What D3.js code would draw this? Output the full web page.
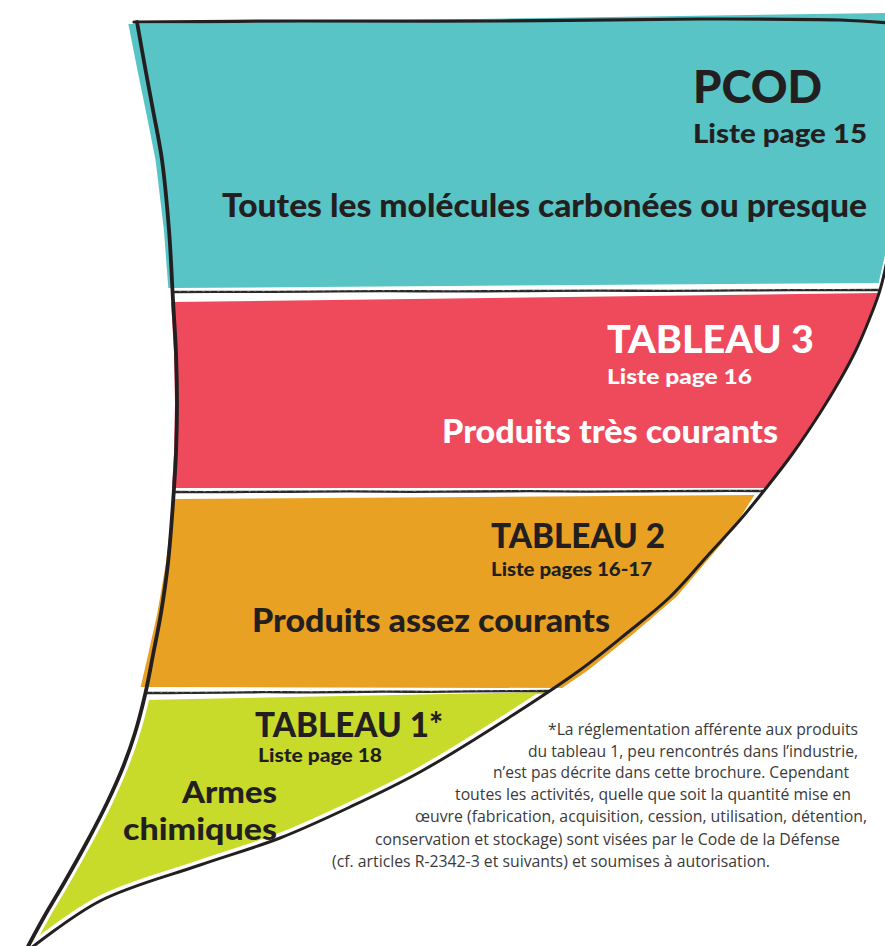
<!DOCTYPE html>
<html><head><meta charset="utf-8">
<script src="https://cdn.jsdelivr.net/npm/d3@7/dist/d3.min.js"></script>
<style>html,body{margin:0;padding:0;background:#fff;}svg{display:block;}</style>
</head><body>
<svg id="chart" width="885" height="946"></svg>
<script>
// ---------- data ----------
const tiers = ["PCOD", "TABLEAU 3", "TABLEAU 2", "TABLEAU 1*"];
const tierLists = ["Liste page 15", "Liste page 16", "Liste pages 16-17", "Liste page 18"];
const tierDescriptions = [
  ["Toutes les molécules carbonées ou presque"],
  ["Produits très courants"],
  ["Produits assez courants"],
  ["Armes", "chimiques"]
];
const tierColors = ["#58c4c5", "#ef4a5c", "#e8a122", "#c9db2a"];
const tierTextColors = ["#231f20", "#ffffff", "#231f20", "#231f20"];
const footnoteLines = [
  "*La réglementation afférente aux produits",
  "du tableau 1, peu rencontrés dans l’industrie,",
  "n’est pas décrite dans cette brochure. Cependant",
  "toutes les activités, quelle que soit la quantité mise en",
  "œuvre (fabrication, acquisition, cession, utilisation, détention,",
  "conservation et stockage) sont visées par le Code de la Défense",
  "(cf. articles R-2342-3 et suivants) et soumises à autorisation."
];

// ---------- layout (shape of the funnel) ----------
const W = 885, H = 946;
const leftEdge = [[137,22],[145,67],[153,110],[162,160],[169,230],[173,300],[176,353],[177,403],[176,453],[173,503],[168,563],[161,613],[153,655],[145,695],[135,733],[123,767],[107,803],[88,840],[64,883],[44,917],[25,952]];
const rightEdge = [[890,240],[888,255],[880,290],[869,320],[856,350],[840,380],[820,413],[793,453],[767,487],[740,520],[710,553],[670,597],[627,633],[580,670],[513,715],[420,772],[350,807],[280,838],[200,865],[100,901],[26,952]];
const topEdge = [[134,22],[300,21],[500,21],[700,19],[840,20],[890,23]];

const leftX = d3.scaleLinear().domain(leftEdge.map(d => d[1])).range(leftEdge.map(d => d[0])).clamp(true);
const rightX = d3.scaleLinear().domain(rightEdge.map(d => d[1])).range(rightEdge.map(d => d[0])).clamp(true);

// band geometry: top/bottom at left & right, x-offsets of fill vs outline along the band (t from 0 to 1)
const bands = [
  {yTL: 24, yTR: 13, yBL: 288, yBR: 283, oL: [[0, -9], [1, -4]], oR: [[0, -3], [1, -3]]},
  {yTL: 302, yTR: 293, yBL: 488, yBR: 488, oL: [[0, -2], [1, -2]], oR: [[0, -1], [1, 0]]},
  {yTL: 499, yTR: 495, yBL: 687, yBR: 688, oL: [[0, 0], [1, -6]], oR: [[0, -6], [0.25, 3], [0.5, 6], [1, 9]]},
  {yTL: 700, yTR: 692, yBL: 948, yBR: 948, oL: [[0, 0], [1, 0]], oR: [[0, 0], [1, 0]]}
];
const separators = [[292, 290], [492, 491], [693, 691]];

function offs(arr) {
  return d3.scaleLinear().domain(arr.map(d => d[0])).range(arr.map(d => d[1]));
}
function bandPoly(b) {
  const pts = [], n = 90, fl = offs(b.oL), fr = offs(b.oR);
  for (let i = 0; i <= n; i++) {
    const t = i / n, y = b.yTL + (b.yBL - b.yTL) * t;
    pts.push([leftX(y) + fl(t), y]);
  }
  for (let i = n; i >= 0; i--) {
    const t = i / n, y = b.yTR + (b.yBR - b.yTR) * t;
    pts.push([rightX(y) + fr(t), y]);
  }
  return pts;
}

const svg = d3.select("#chart");
const defs = svg.append("defs");
defs.append("clipPath").attr("id", "greenZone")
  .append("rect").attr("x", 0).attr("y", 694).attr("width", W).attr("height", H);

const area = d3.line().curve(d3.curveLinearClosed);
const smooth = d3.line().curve(d3.curveCatmullRom.alpha(0.5));

// fills
svg.append("g").selectAll("path").data(tiers).join("path")
  .attr("d", (d, i) => area(bandPoly(bands[i])))
  .attr("fill", (d, i) => tierColors[i]);

// white inset around green tier
const outlineG = svg.append("g").attr("clip-path", "url(#greenZone)");
[leftEdge, rightEdge].forEach(e => outlineG.append("path")
  .attr("d", smooth(e)).attr("fill", "none").attr("stroke", "#fff").attr("stroke-width", 10));

// separators
const sepG = svg.append("g");
separators.forEach(([yl, yr]) => {
  const x0 = leftX(yl), x1 = rightX(yr);
  const pts = d3.range(0, 1.0001, 0.1).map(t => [x0 + (x1 - x0) * t, yl + (yr - yl) * t + (t > 0 && t < 1 ? ((t * 7) % 1 - 0.5) * 0.6 : 0)]);
  sepG.append("path").attr("d", smooth(pts)).attr("fill", "none")
    .attr("stroke", "#2b2828").attr("stroke-width", 2.3).attr("stroke-linecap", "round");
  sepG.append("path").attr("d", smooth(pts)).attr("fill", "none")
    .attr("stroke", "#fff").attr("stroke-width", 0.8).attr("stroke-opacity", 0.45)
    .attr("stroke-dasharray", "2 5 1 7").attr("transform", "translate(0,-0.6)");
});

// outline
const ol = svg.append("g").attr("fill", "none").attr("stroke", "#231f20").attr("stroke-linecap", "round").attr("stroke-linejoin", "round");
ol.append("path").attr("d", smooth(leftEdge)).attr("stroke-width", 3.8);
ol.append("path").attr("d", smooth(rightEdge)).attr("stroke-width", 3);
ol.append("path").attr("d", smooth(topEdge)).attr("stroke-width", 3.2);

// texts
const FONT = "Lato, 'Noto Sans', sans-serif";
const textLayout = [
  {title: [693, 103, 45, 129], list: [693, 143, 27, 174], desc: [[222, 217, 32.5, 645]]},
  {title: [607, 353, 38.5, 207], list: [607, 384, 21, 145], desc: [[442, 443, 32, 336]]},
  {title: [491, 548, 35, 174], list: [491, 576, 19.5, 161], desc: [[252, 632, 32.5, 358]]},
  {title: [255, 737, 35, 188], list: [258, 762, 18.5, 124], desc: [[182, 803, 30, 95], [123, 840, 30, 154]]}
];
const tg = svg.append("g").attr("font-family", FONT).attr("font-weight", 900);
function put(txt, spec, color) {
  tg.append("text").attr("x", spec[0]).attr("y", spec[1]).attr("font-size", spec[2])
    .attr("textLength", spec[3]).attr("lengthAdjust", "spacingAndGlyphs")
    .attr("fill", color).text(txt);
}
tiers.forEach((t, i) => {
  const L = textLayout[i], c = tierTextColors[i];
  put(t, L.title, c);
  put(tierLists[i], L.list, c);
  tierDescriptions[i].forEach((d, j) => put(d, L.desc[j], c));
});

// footnote
const footLayout = [[548, 858, 735], [528, 858, 757], [493, 849, 778], [455, 851, 800], [415, 867, 822], [375, 840, 845], [332, 770, 867]];
svg.append("g").attr("font-family", "'Open Sans', sans-serif").attr("font-size", 16).attr("fill", "#3a3a3a")
  .selectAll("text").data(footnoteLines).join("text")
  .attr("x", (d, i) => footLayout[i][0]).attr("y", (d, i) => footLayout[i][2])
  .attr("textLength", (d, i) => footLayout[i][1] - footLayout[i][0]).attr("lengthAdjust", "spacingAndGlyphs")
  .text(d => d);
</script>
</body></html>
